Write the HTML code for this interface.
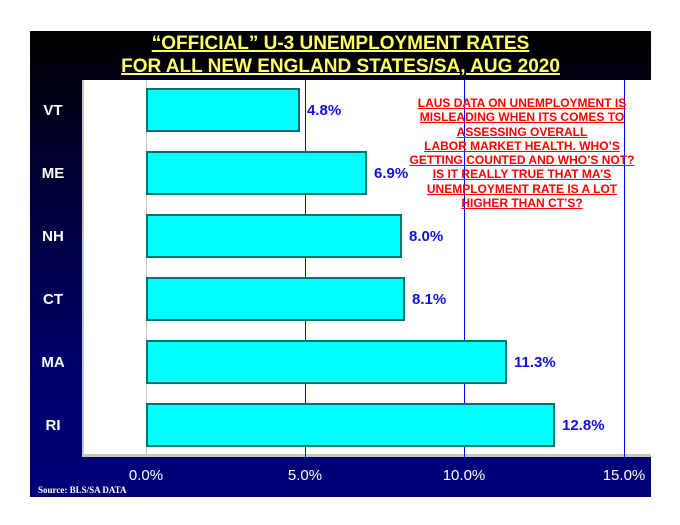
<!DOCTYPE html>
<html><head><style>
body{margin:0;width:680px;height:525px;background:#fff;position:relative;font-family:"Liberation Sans",Arial,sans-serif;overflow:hidden}
#panel{position:absolute;left:30px;top:31px;width:621px;height:466px;background:linear-gradient(#000 0%,#000030 30%,#000070 75%,#000078 100%)}
.t{position:absolute;left:30px;width:621px;text-align:center;color:#ffff66;font-weight:bold;font-size:19px;text-decoration:underline;text-decoration-thickness:2px}
#plot{position:absolute;left:82px;top:80px;width:569px;height:377px;background:#fff;border-left:2px solid #c8c8b8;border-bottom:3px solid #c8c8b0;box-sizing:border-box}
.g{position:absolute;top:80px;height:377px;width:1px;background:#0000ee}
.bar{position:absolute;left:146px;height:44px;background:#00ffff;border:2px solid #007070;box-sizing:border-box}
.v{position:absolute;color:#1010e0;font-weight:bold;font-size:15px}
.s{position:absolute;left:30px;width:46px;text-align:center;color:#fff;font-weight:bold;font-size:15px}
.x{position:absolute;top:467px;color:#fff;font-size:15px;width:80px;text-align:center}
#note{position:absolute;left:402px;top:96px;width:240px;text-align:center;color:#ff0000;font-weight:bold;font-size:12px;line-height:14.3px}
#note span{text-decoration:underline}
</style></head><body>
<div id="panel"></div>
<div class="t" style="top:33px">“OFFICIAL” U-3 UNEMPLOYMENT RATES</div>
<div class="t" style="top:56px">FOR ALL NEW ENGLAND STATES/SA, AUG 2020</div>
<div id="plot"></div>
<div style="position:absolute;left:146px;top:80px;width:1px;height:377px;background:#c8c8b8"></div>
<div class="g" style="left:305px"></div>
<div class="g" style="left:464px"></div>
<div class="g" style="left:624px"></div>
<div class="bar" style="top:88px;width:154px"></div>
<div class="bar" style="top:151px;width:221px"></div>
<div class="bar" style="top:214px;width:256px"></div>
<div class="bar" style="top:277px;width:259px"></div>
<div class="bar" style="top:340px;width:361px"></div>
<div class="bar" style="top:403px;width:409px"></div>
<div class="v" style="left:307px;top:102px">4.8%</div>
<div class="v" style="left:374px;top:165px">6.9%</div>
<div class="v" style="left:409px;top:228px">8.0%</div>
<div class="v" style="left:412px;top:291px">8.1%</div>
<div class="v" style="left:514px;top:354px">11.3%</div>
<div class="v" style="left:562px;top:417px">12.8%</div>
<div class="s" style="top:102px">VT</div>
<div class="s" style="top:165px">ME</div>
<div class="s" style="top:228px">NH</div>
<div class="s" style="top:291px">CT</div>
<div class="s" style="top:354px">MA</div>
<div class="s" style="top:417px">RI</div>
<div class="x" style="left:106px">0.0%</div>
<div class="x" style="left:265px">5.0%</div>
<div class="x" style="left:424px">10.0%</div>
<div class="x" style="left:584px">15.0%</div>
<div style="position:absolute;left:38px;top:485px;color:#fff;font-family:'Liberation Serif',serif;font-weight:bold;font-size:9px">Source: BLS/SA DATA</div>
<div id="note"><span>LAUS DATA ON UNEMPLOYMENT IS</span><br><span>MISLEADING WHEN ITS COMES TO</span><br><span>ASSESSING OVERALL</span><br><span>LABOR MARKET HEALTH. WHO’S</span><br><span>GETTING COUNTED AND WHO’S NOT?</span><br><span>IS IT REALLY TRUE THAT MA’S</span><br><span>UNEMPLOYMENT RATE IS A LOT</span><br><span>HIGHER THAN CT’S?</span></div>
</body></html>
